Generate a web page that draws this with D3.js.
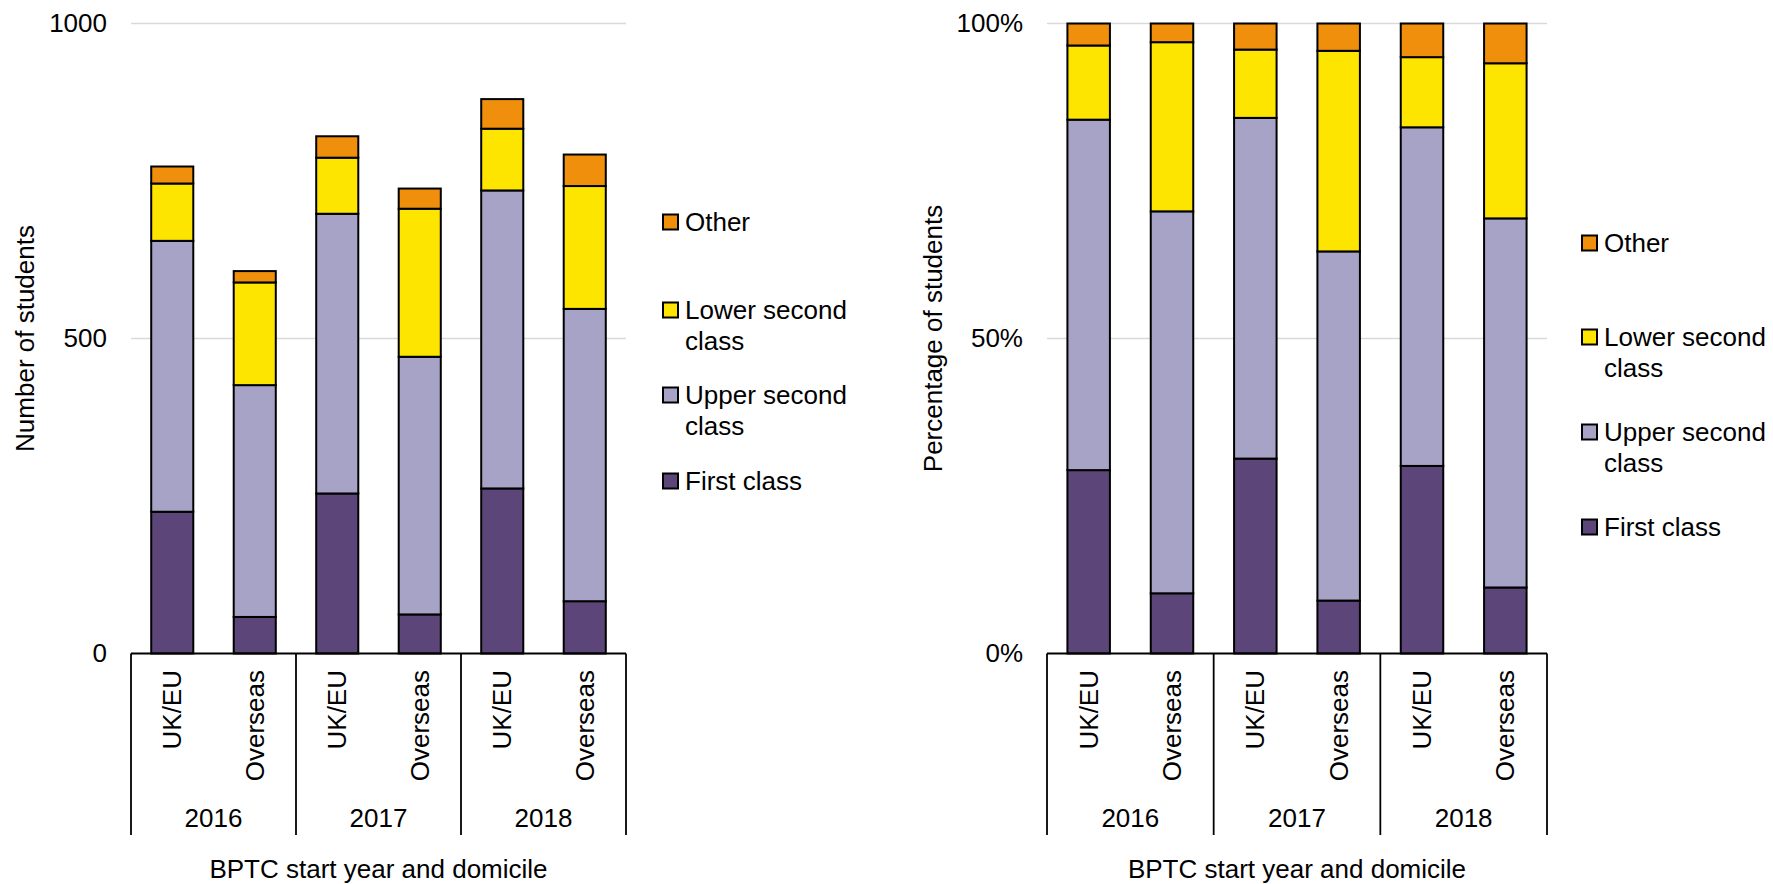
<!DOCTYPE html>
<html>
<head>
<meta charset="utf-8">
<script src="https://cdn.jsdelivr.net/npm/d3@7"></script>
<style>
  body { margin: 0; background: #fff; }
  svg { font-family: "Liberation Sans", Arial, sans-serif; }
</style>
</head>
<body>
<svg width="1773" height="884"></svg>
<script>
// categories
var years = ["2016", "2017", "2018"];
var domiciles = ["UK/EU", "Overseas"];
var classes = ["First class", "Upper second class", "Lower second class", "Other"];

// number of students, in order 2016 UK/EU, 2016 Overseas, 2017 UK/EU, ...
var firstClass  = [225,  58, 254,  62, 262,  83];
var upperSecond = [430, 368, 444, 409, 473, 464];
var lowerSecond = [ 91, 163,  89, 235,  98, 195];
var other       = [ 27,  18,  34,  32,  47,  50];

var countTicks = [0, 500, 1000];
var pctTicks = [0, 0.5, 1];

// colours
var color = d3.scaleOrdinal()
    .domain(classes)
    .range(["#5C4579", "#A7A3C7", "#FEE500", "#EF8F0B"]);

// legend text, wrapped like the original
var legendLines = {
    "Other": ["Other"],
    "Lower second class": ["Lower second", "class"],
    "Upper second class": ["Upper second", "class"],
    "First class": ["First class"]
};

// table for d3.stack
var rows = [];
years.forEach(function(yr, i){
    domiciles.forEach(function(dm, j){
        var k = i * domiciles.length + j;
        rows.push({
            key: yr + "|" + dm, year: yr, dom: dm,
            "First class": firstClass[k],
            "Upper second class": upperSecond[k],
            "Lower second class": lowerSecond[k],
            "Other": other[k]
        });
    });
});

var svg = d3.select("svg");
var yTop = 23.5, yBottom = 653.5, labelBottom = 835;

var panels = [
    {x0: 131, x1: 626, title: "Number of students", titleX: 25,
     offset: d3.stackOffsetNone, domain: [0, 1000], ticks: countTicks,
     fmt: d3.format("d"), legendX: 663, legendY: [222, 310, 395, 481]},
    {x0: 1047, x1: 1547, title: "Percentage of students", titleX: 933,
     offset: d3.stackOffsetExpand, domain: [0, 1], ticks: pctTicks,
     fmt: d3.format(".0%"), legendX: 1582, legendY: [243, 337, 432, 527]}
];

panels.forEach(function(p){
    var g = svg.append("g");

    var x = d3.scaleBand()
        .domain(rows.map(function(d){ return d.key; }))
        .range([p.x0, p.x1])
        .paddingInner(0.49)
        .paddingOuter(0.245);

    var y = d3.scaleLinear()
        .domain(p.domain)
        .range([yBottom, yTop]);

    // gridlines
    g.selectAll("line.grid")
        .data(p.ticks.filter(function(t){ return t > 0; }))
        .enter().append("line")
        .attr("x1", p.x0).attr("x2", p.x1)
        .attr("y1", function(d){ return y(d); })
        .attr("y2", function(d){ return y(d); })
        .attr("stroke", "#D9D9D9")
        .attr("stroke-width", 1.5);

    // y axis labels
    var yAxis = g.append("g")
        .attr("transform", "translate(" + p.x0 + ",0)")
        .call(d3.axisLeft(y).tickValues(p.ticks).tickFormat(p.fmt).tickSize(0).tickPadding(24));
    yAxis.select(".domain").remove();
    yAxis.selectAll("text")
        .attr("font-size", 26)
        .attr("font-family", "Liberation Sans, Arial, sans-serif")
        .attr("fill", "#000");

    // stacked bars
    var series = d3.stack()
        .keys(classes)
        .offset(p.offset)(rows);

    g.selectAll("g.series")
        .data(series)
        .enter().append("g")
        .attr("fill", function(d){ return color(d.key); })
        .selectAll("rect")
        .data(function(d){ return d; })
        .enter().append("rect")
        .attr("x", function(d){ return x(d.data.key); })
        .attr("width", x.bandwidth())
        .attr("y", function(d){ return y(d[1]); })
        .attr("height", function(d){ return y(d[0]) - y(d[1]); })
        .attr("stroke", "#000")
        .attr("stroke-width", 2);

    // x axis line and group dividers
    g.append("line")
        .attr("x1", p.x0).attr("x2", p.x1)
        .attr("y1", yBottom).attr("y2", yBottom)
        .attr("stroke", "#000").attr("stroke-width", 1.8);

    var groupW = (p.x1 - p.x0) / years.length;
    g.selectAll("line.div")
        .data(d3.range(years.length + 1))
        .enter().append("line")
        .attr("x1", function(i){ return p.x0 + i * groupW; })
        .attr("x2", function(i){ return p.x0 + i * groupW; })
        .attr("y1", yBottom).attr("y2", labelBottom)
        .attr("stroke", "#000").attr("stroke-width", 1.8);

    // domicile labels, rotated
    g.selectAll("text.dom")
        .data(rows)
        .enter().append("text")
        .attr("transform", function(d){
            return "translate(" + (x(d.key) + x.bandwidth() / 2) + ",670) rotate(-90)";
        })
        .attr("text-anchor", "end")
        .attr("dy", "0.35em")
        .attr("font-size", 26)
        .text(function(d){ return d.dom; });

    // year labels
    g.selectAll("text.year")
        .data(years)
        .enter().append("text")
        .attr("x", function(d, i){ return p.x0 + (i + 0.5) * groupW; })
        .attr("y", 818)
        .attr("dy", "0.35em")
        .attr("text-anchor", "middle")
        .attr("font-size", 26)
        .text(function(d){ return d; });

    // axis titles
    g.append("text")
        .attr("x", (p.x0 + p.x1) / 2)
        .attr("y", 878)
        .attr("text-anchor", "middle")
        .attr("font-size", 26)
        .text("BPTC start year and domicile");

    g.append("text")
        .attr("transform", "translate(" + p.titleX + "," + ((yTop + yBottom) / 2) + ") rotate(-90)")
        .attr("text-anchor", "middle")
        .attr("dy", "0.35em")
        .attr("font-size", 26)
        .text(p.title);

    // legend, top to bottom
    var legend = g.selectAll("g.legend")
        .data(classes.slice().reverse())
        .enter().append("g")
        .attr("transform", function(d, i){
            return "translate(" + p.legendX + "," + p.legendY[i] + ")";
        });

    legend.append("rect")
        .attr("x", 0).attr("y", -7.5)
        .attr("width", 15).attr("height", 15)
        .attr("fill", function(d){ return color(d); })
        .attr("stroke", "#000")
        .attr("stroke-width", 2);

    legend.append("text")
        .attr("x", 22)
        .attr("font-size", 26)
        .selectAll("tspan")
        .data(function(d){ return legendLines[d]; })
        .enter().append("tspan")
        .attr("x", 22)
        .attr("y", function(d, i){ return i * 31; })
        .attr("dy", "0.35em")
        .text(function(d){ return d; });
});
</script>
</body>
</html>
